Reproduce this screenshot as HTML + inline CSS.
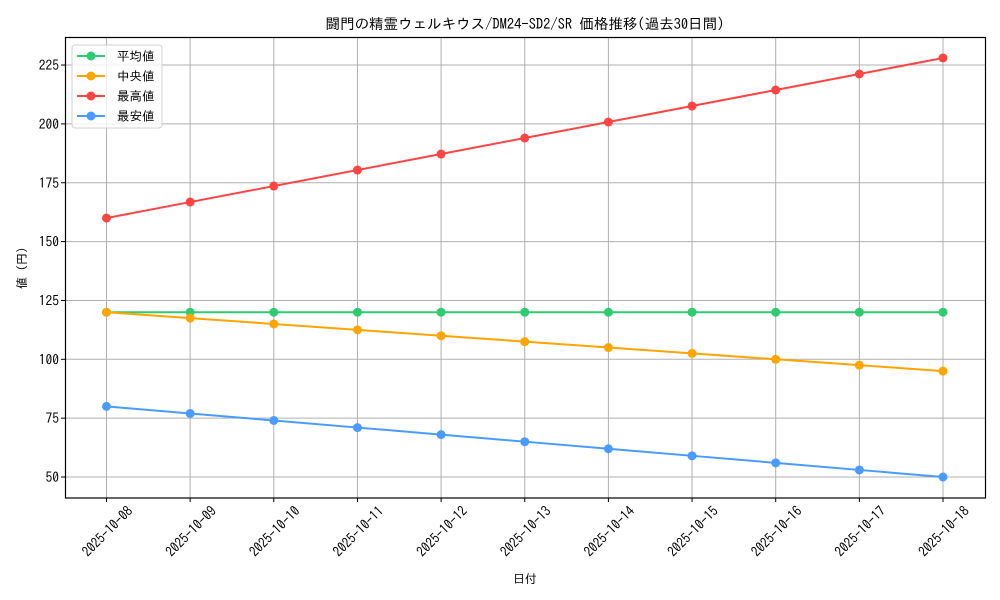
<!DOCTYPE html>
<html><head><meta charset="utf-8"><style>body{margin:0;background:#fff}svg{display:block}text{font-family:"IPAGothic","Noto Sans CJK JP",sans-serif;fill:#000}</style></head>
<body>
<svg id="s" width="1000" height="600" xmlns="http://www.w3.org/2000/svg">
<text x="525" y="29" font-size="14.5" text-anchor="middle">闘門の精霊ウェルキウス/DM24-SD2/SR 価格推移(過去30日間)</text>
<text x="525" y="583" font-size="12" text-anchor="middle">日付</text>
<text transform="translate(26,268) rotate(-90)" font-size="12" text-anchor="middle">値 (円)</text>
<g id="g"></g>
</svg>
<script>
const g=document.getElementById('g');let h='';
const X=i=>106.5+i*83.65, Y=v=>477-(v-50)*2.354;
for(let i=0;i<11;i++){const x=X(i);h+=`<line x1="${x}" y1="37.5" x2="${x}" y2="498" stroke="#b0b0b0" stroke-width="1"/><line x1="${x}" y1="498" x2="${x}" y2="502" stroke="#000"/>`;
const d=String(8+i).padStart(2,'0');h+=`<text transform="translate(${x+20},505) rotate(-45) scale(0.92,1)" font-size="14" text-anchor="end" dominant-baseline="hanging">2025-10-${d}</text>`;}
for(let v=50;v<=225;v+=25){const y=Y(v);h+=`<line x1="65.5" y1="${y}" x2="985.5" y2="${y}" stroke="#b0b0b0"/><line x1="61" y1="${y}" x2="65.5" y2="${y}" stroke="#000"/><text x="59" y="${y+5}" font-size="13.5" text-anchor="end">${v}</text>`;}
const S=[['#2ecc71',i=>120],['#ffa500',i=>120-2.5*i],['#ff4444',i=>160+6.8*i],['#4a9bff',i=>80-3*i]];
for(const [c,f] of S){let p=[];for(let i=0;i<11;i++)p.push(X(i)+','+Y(f(i)));h+=`<polyline points="${p.join(' ')}" fill="none" stroke="${c}" stroke-width="2"/>`;for(let i=0;i<11;i++)h+=`<circle cx="${X(i)}" cy="${Y(f(i))}" r="4.5" fill="${c}"/>`;}
h+=`<rect x="65.5" y="37.5" width="920" height="460.5" fill="none" stroke="#000" stroke-width="1.2"/>`;
h+=`<rect x="72" y="45" width="90" height="83" rx="3" fill="#fff" fill-opacity="0.8" stroke="#d0d0d0"/>`;
['平均値','中央値','最高値','最安値'].forEach((t,k)=>{const y=56+k*20,c=S[k][0];h+=`<line x1="77" y1="${y}" x2="105" y2="${y}" stroke="${c}" stroke-width="2"/><circle cx="91" cy="${y}" r="4.5" fill="${c}"/><text x="117" y="${y+4.5}" font-size="12.5">${t}</text>`;});
g.innerHTML=h;
</script>
</body></html>
